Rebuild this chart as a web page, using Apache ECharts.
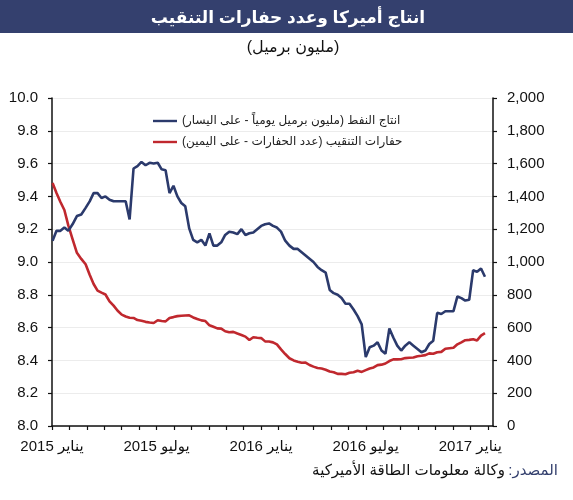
<!DOCTYPE html>
<html>
<head>
<meta charset="utf-8">
<script src="https://cdn.jsdelivr.net/npm/echarts@6/dist/echarts.min.js"></script>
<style>
html,body{margin:0;padding:0;background:#fff;}
#c{width:573px;height:500px;}
</style>
</head>
<body>
<div id="c" dir="rtl"></div>
<script>
// Weekly data, first week 2015-01-02
const startDate = '2015-01-02';
const oilProduction = [
9.13,9.19,9.19,9.21,9.19,9.23,9.28,9.29,9.33,9.37,9.42,9.42,9.39,9.40,9.38,9.37,9.37,9.37,9.37,9.26,
9.57,9.585,9.61,9.59,9.605,9.60,9.605,9.565,9.56,9.42,9.465,9.40,9.36,9.34,9.205,9.135,9.12,9.135,9.10,9.175,
9.10,9.10,9.12,9.165,9.185,9.18,9.17,9.20,9.165,9.175,9.18,9.20,9.22,9.23,9.235,9.22,9.21,9.185,9.13,9.10,
9.08,9.08,9.06,9.04,9.02,9.00,8.97,8.95,8.935,8.83,8.81,8.80,8.78,8.745,8.745,8.71,8.67,8.62,8.42,8.48,
8.49,8.51,8.46,8.44,8.595,8.54,8.49,8.46,8.49,8.51,8.49,8.47,8.45,8.46,8.50,8.52,8.69,8.683,8.70,8.70,
8.70,8.79,8.78,8.765,8.77,8.95,8.94,8.96,8.91
];
const rigCount = [
1482,1421,1366,1317,1223,1140,1056,1019,986,922,866,825,813,802,760,734,703,679,668,660,
659,646,642,635,631,628,645,640,638,659,664,670,672,674,675,662,652,644,640,614,
605,595,594,578,572,574,564,555,545,524,541,538,536,516,515,510,498,467,439,413,
400,392,386,387,372,362,354,351,343,332,328,318,318,316,325,328,337,330,341,351,
357,371,374,381,396,406,406,407,414,416,418,425,428,432,443,441,450,452,471,474,
477,498,510,523,525,529,522,551,566
];
const tickMonths = [0, 6, 12, 18, 24];
const tickLabels = ['يناير 2015', 'يوليو 2015', 'يناير 2016', 'يوليو 2016', 'يناير 2017'];
const seriesNames = ['انتاج النفط (مليون برميل يومياً - على اليسار)', 'حفارات التنقيب (عدد الحفارات - على اليمين)'];

function monthPos(d) {
  const y = d.getUTCFullYear(), m = d.getUTCMonth(), day = d.getUTCDate();
  const dim = new Date(Date.UTC(y, m + 1, 0)).getUTCDate();
  return (y - 2015) * 12 + m + (day - 1) / dim;
}
const t0 = Date.parse(startDate + 'T00:00:00Z');
const xs = oilProduction.map((_, i) => monthPos(new Date(t0 + i * 7 * 86400000)));
const oilData = oilProduction.map((v, i) => [xs[i], v]);
const rigData = rigCount.map((v, i) => [xs[i], v]);

const FONT = '"Liberation Sans", Arial, "DejaVu Sans", sans-serif';
const lineIcon = 'path://M0,0 L40,0 L40,4 L0,4 Z';
const chart = echarts.init(document.getElementById('c'));
chart.setOption({
  backgroundColor: '#fff',
  animation: false,
  textStyle: { fontFamily: FONT },
  graphic: [
    { type: 'rect', left: 0, top: 0, shape: { width: 573, height: 33 }, style: { fill: '#34406e' }, silent: true },
    { type: 'text', x: 288, y: 18, style: { text: 'انتاج أميركا وعدد حفارات التنقيب', fill: '#fff', font: 'bold 17px ' + FONT, align: 'center', verticalAlign: 'middle' } },
    { type: 'text', x: 293, y: 48, style: { text: '(مليون برميل)', fill: '#111', font: '16px ' + FONT, align: 'center', verticalAlign: 'middle' } },
    { type: 'text', right: 15, top: 463, style: {
        text: '{b|وكالة معلومات الطاقة الأميركية} {a|المصدر:}',
        rich: { a: { fill: '#34406e', font: '15px ' + FONT }, b: { fill: '#111', font: '15px ' + FONT } } } }
  ],
  legend: {
    orient: 'vertical', left: 148, top: 110, itemWidth: 24, itemHeight: 3, itemGap: 9,
    textStyle: { fontSize: 12, color: '#222', fontFamily: FONT },
    data: [
      { name: seriesNames[0], icon: lineIcon, itemStyle: { color: '#2b3a6c' } },
      { name: seriesNames[1], icon: lineIcon, itemStyle: { color: '#c0282e' } }
    ]
  },
  grid: { left: 52, right: 80, top: 98, bottom: 74 },
  xAxis: {
    type: 'value', min: 0, max: 25.3, interval: 1,
    axisLine: { lineStyle: { color: '#111', width: 1.5 } },
    axisTick: { show: true, length: 4, lineStyle: { color: '#111', width: 1.2 } },
    splitLine: { show: false },
    axisLabel: {
      margin: 13, fontSize: 15, color: '#111', showMaxLabel: false,
      formatter: v => { const k = tickMonths.indexOf(Math.round(v * 1000) / 1000); return k >= 0 ? tickLabels[k] : ''; }
    }
  },
  yAxis: [
    {
      type: 'value', min: 8, max: 10, interval: 0.2, position: 'left',
      axisLine: { show: true, lineStyle: { color: '#111', width: 1.5 } },
      axisTick: { show: true, length: 4, lineStyle: { color: '#111', width: 1.2 } },
      splitLine: { show: true, lineStyle: { color: '#ececec', width: 1 } },
      axisLabel: { margin: 14, fontSize: 15, color: '#111', formatter: v => v.toFixed(1) }
    },
    {
      type: 'value', min: 0, max: 2000, interval: 200, position: 'right',
      axisLine: { show: true, lineStyle: { color: '#111', width: 1.5 } },
      axisTick: { show: true, length: 4, lineStyle: { color: '#111', width: 1.2 } },
      splitLine: { show: false },
      axisLabel: { margin: 14, fontSize: 15, color: '#111', formatter: v => v.toLocaleString('en-US') }
    }
  ],
  series: [
    { name: seriesNames[0], type: 'line', yAxisIndex: 0, data: oilData, symbol: 'none', lineStyle: { color: '#2b3a6c', width: 2.6 }, itemStyle: { color: '#2b3a6c' }, z: 3 },
    { name: seriesNames[1], type: 'line', yAxisIndex: 1, data: rigData, symbol: 'none', lineStyle: { color: '#c0282e', width: 2.6 }, itemStyle: { color: '#c0282e' }, z: 2 }
  ]
});
</script>
</body>
</html>
